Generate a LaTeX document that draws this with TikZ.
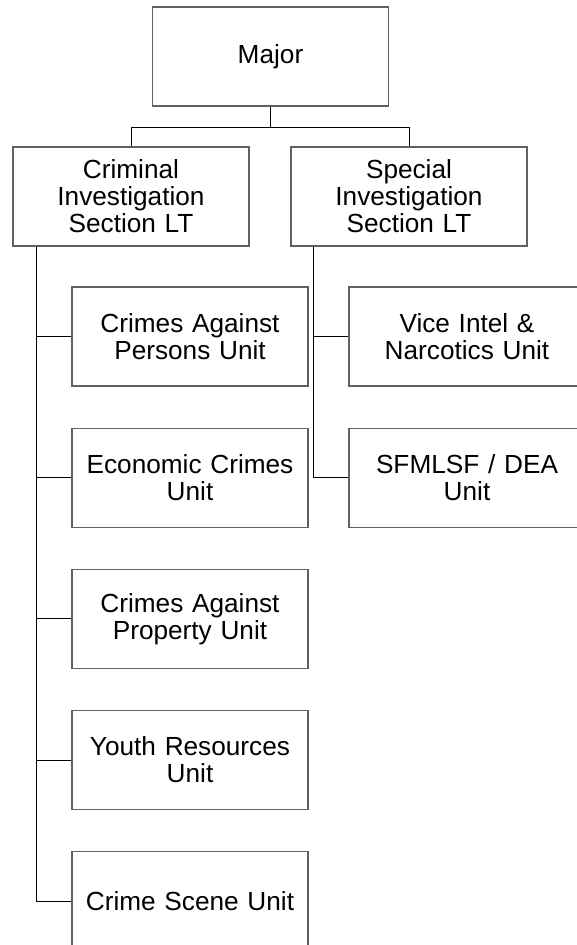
\documentclass[tikz,border=0pt]{standalone}
\usepackage{fontspec}
\setmainfont{Liberation Sans}
\usetikzlibrary{positioning}

\begin{document}
\begin{tikzpicture}[
    x=1pt, y=-1pt,
    font=\fontsize{26.2}{27}\selectfont,
    node distance=41pt,
    unitbox/.style={draw=black!62, line width=1.2pt, fill=white, inner sep=0pt,
        minimum width=236pt, minimum height=99pt, text width=224pt, align=center},
    link/.style={draw=black, line width=1pt}
]
\useasboundingbox (0,0) rectangle (576,945);

% Top
\node[unitbox] (major) at (270.5,56.5) {Major};

% Sections
\node[unitbox] (cis) at (131,196.5) {Criminal\\Investigation\\Section LT};
\node[unitbox] (sis) at (409,196.5) {Special\\Investigation\\Section LT};

% Criminal units
\node[unitbox] (persons) at (190,336.5) {Crimes Against\\Persons Unit};
\node[unitbox, below=of persons] (economic) {Economic Crimes\\Unit};
\node[unitbox, below=of economic] (property) {Crimes Against\\Property Unit};
\node[unitbox, below=of property] (youth) {Youth Resources\\Unit};
\node[unitbox, below=of youth] (scene) {Crime Scene Unit};

% Special units
\node[unitbox] (vice) at (467,336.5) {Vice Intel \&\\Narcotics Unit};
\node[unitbox, below=of vice] (dea) {SFMLSF / DEA\\Unit};

% Connectors
\draw[link] (major.south) -- ++(0,21) -| (cis.north);
\draw[link] (major.south) -- ++(0,21) -| (sis.north);
\foreach \u in {persons,economic,property,youth,scene}
  \draw[link] ([xshift=24pt]cis.south west) |- (\u.west);
\foreach \u in {vice,dea}
  \draw[link] ([xshift=23pt]sis.south west) |- (\u.west);

\end{tikzpicture}
\end{document}
